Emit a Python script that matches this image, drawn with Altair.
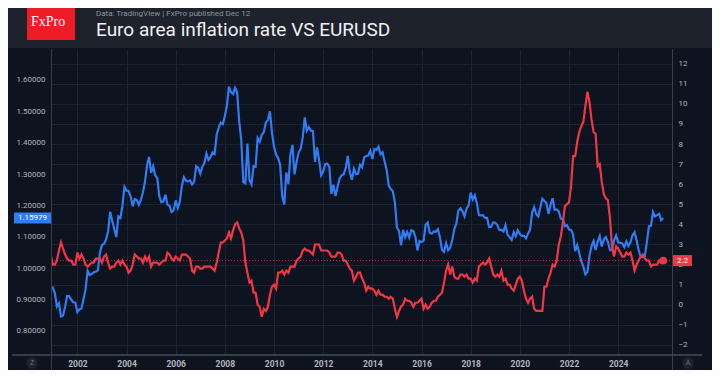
import altair as alt
import pandas as pd

# ---------------- data (monthly, first value = Dec 2000) ----------------
eurusd = [
    0.9388,
    0.9380, 0.9200, 0.8780, 0.8880, 0.8460, 0.8490, 0.8770, 0.9110, 0.9110, 0.8990, 0.8910, 0.8900,  # 2001
    0.8600, 0.8680, 0.8720, 0.9010, 0.9330, 0.9910, 0.9780, 0.9810, 0.9870, 0.9890, 0.9930, 1.0490,  # 2002
    1.0730, 1.0780, 1.0910, 1.1170, 1.1800, 1.1510, 1.1250, 1.0990, 1.1650, 1.1600, 1.1990, 1.2590,  # 2003
    1.2470, 1.2460, 1.2290, 1.1970, 1.2200, 1.2170, 1.2020, 1.2170, 1.2410, 1.2760, 1.3270, 1.3550,  # 2004
    1.3040, 1.3250, 1.2960, 1.2870, 1.2290, 1.2100, 1.2130, 1.2340, 1.2020, 1.1990, 1.1790, 1.1840,  # 2005
    1.2160, 1.1920, 1.2110, 1.2620, 1.2900, 1.2790, 1.2760, 1.2800, 1.2670, 1.2750, 1.3250, 1.3200,  # 2006
    1.3020, 1.3230, 1.3350, 1.3650, 1.3450, 1.3540, 1.3690, 1.3640, 1.4260, 1.4480, 1.4640, 1.4590,  # 2007
    1.4860, 1.5180, 1.5790, 1.5610, 1.5550, 1.5750, 1.5600, 1.4670, 1.4090, 1.2740, 1.2700, 1.3970,  # 2008
    1.2800, 1.2670, 1.3250, 1.3230, 1.4150, 1.4030, 1.4250, 1.4330, 1.4640, 1.4720, 1.5000, 1.4320,  # 2009
    1.3860, 1.3620, 1.3510, 1.3290, 1.2300, 1.2030, 1.3050, 1.2680, 1.3630, 1.3930, 1.2990, 1.3380,  # 2010
    1.3690, 1.3800, 1.4160, 1.4810, 1.4390, 1.4500, 1.4390, 1.4370, 1.3390, 1.3850, 1.3450, 1.2960,  # 2011
    1.3080, 1.3320, 1.3330, 1.3230, 1.2370, 1.2660, 1.2300, 1.2580, 1.2860, 1.2960, 1.2990, 1.3190,  # 2012
    1.3580, 1.3060, 1.2820, 1.3170, 1.3000, 1.3010, 1.3300, 1.3220, 1.3530, 1.3580, 1.3590, 1.3740,  # 2013
    1.3480, 1.3800, 1.3770, 1.3870, 1.3630, 1.3690, 1.3390, 1.3130, 1.2630, 1.2520, 1.2450, 1.2100,  # 2014
    1.1290, 1.1190, 1.0730, 1.1220, 1.0990, 1.1150, 1.0980, 1.1210, 1.1180, 1.1000, 1.0570, 1.0860,  # 2015
    1.0830, 1.0870, 1.1380, 1.1450, 1.1130, 1.1100, 1.1170, 1.1160, 1.1240, 1.0980, 1.0590, 1.0520,  # 2016
    1.0800, 1.0570, 1.0650, 1.0900, 1.1240, 1.1420, 1.1840, 1.1910, 1.1810, 1.1650, 1.1900, 1.2000,  # 2017
    1.2410, 1.2190, 1.2320, 1.2080, 1.1690, 1.1680, 1.1690, 1.1600, 1.1600, 1.1310, 1.1320, 1.1460,  # 2018
    1.1450, 1.1370, 1.1220, 1.1220, 1.1170, 1.1370, 1.1070, 1.0990, 1.0900, 1.1150, 1.1020, 1.1210,  # 2019
    1.1090, 1.1030, 1.1030, 1.0950, 1.1100, 1.1230, 1.1780, 1.1940, 1.1720, 1.1650, 1.1930, 1.2210,  # 2020
    1.2140, 1.2070, 1.1730, 1.2020, 1.2230, 1.1860, 1.1870, 1.1810, 1.1580, 1.1560, 1.1340, 1.1370,  # 2021
    1.1230, 1.1220, 1.1070, 1.0540, 1.0730, 1.0480, 1.0220, 1.0050, 0.9800, 0.9880, 1.0400, 1.0700,  # 2022
    1.0860, 1.0580, 1.0840, 1.1020, 1.0690, 1.0910, 1.0990, 1.0840, 1.0570, 1.0570, 1.0890, 1.1040,  # 2023
    1.0820, 1.0810, 1.0790, 1.0670, 1.0850, 1.0710, 1.0820, 1.1050, 1.1140, 1.0880, 1.0580, 1.0350,  # 2024
    1.0360, 1.0380, 1.0820, 1.1330, 1.1350, 1.1790, 1.1650, 1.1690, 1.1730, 1.1530, 1.1598,          # 2025
]

inflation = [
    2.5,
    2.0, 2.0, 2.2, 2.7, 3.1, 2.8, 2.5, 2.3, 2.2, 2.2, 2.0, 2.0,   # 2001
    2.6, 2.3, 2.5, 2.3, 2.0, 1.9, 2.0, 2.1, 2.1, 2.3, 2.3, 2.3,   # 2002
    2.1, 2.4, 2.5, 2.1, 1.8, 1.9, 1.9, 2.1, 2.2, 2.0, 2.2, 2.0,   # 2003
    1.9, 1.6, 1.7, 2.0, 2.5, 2.4, 2.3, 2.3, 2.1, 2.4, 2.2, 2.4,   # 2004
    1.9, 2.1, 2.1, 2.1, 2.0, 2.1, 2.2, 2.2, 2.6, 2.5, 2.3, 2.2,   # 2005
    2.4, 2.3, 2.2, 2.5, 2.5, 2.5, 2.4, 2.3, 1.7, 1.6, 1.9, 1.9,   # 2006
    1.8, 1.8, 1.9, 1.9, 1.9, 1.9, 1.8, 1.7, 2.1, 2.6, 3.1, 3.1,   # 2007
    3.2, 3.3, 3.6, 3.3, 3.7, 4.0, 4.1, 3.8, 3.6, 3.2, 2.1, 1.6,   # 2008
    1.1, 1.2, 0.6, 0.6, 0.0, -0.1, -0.6, -0.2, -0.3, -0.1, 0.5, 0.9,  # 2009
    1.0, 0.8, 1.6, 1.6, 1.7, 1.5, 1.7, 1.6, 1.9, 1.9, 1.9, 2.2,   # 2010
    2.3, 2.4, 2.7, 2.8, 2.7, 2.7, 2.6, 2.5, 3.0, 3.0, 3.0, 2.7,   # 2011
    2.7, 2.7, 2.7, 2.6, 2.4, 2.4, 2.4, 2.6, 2.6, 2.5, 2.2, 2.2,   # 2012
    2.0, 1.8, 1.7, 1.2, 1.4, 1.6, 1.6, 1.3, 1.1, 0.7, 0.9, 0.8,   # 2013
    0.8, 0.7, 0.5, 0.7, 0.5, 0.5, 0.4, 0.4, 0.3, 0.4, 0.3, -0.2,  # 2014
    -0.6, -0.3, -0.1, 0.0, 0.3, 0.2, 0.2, 0.1, -0.1, 0.1, 0.1, 0.2,  # 2015
    0.3, -0.2, 0.0, -0.2, -0.1, 0.1, 0.2, 0.2, 0.4, 0.5, 0.6, 1.1,  # 2016
    1.7, 2.0, 1.5, 1.9, 1.4, 1.3, 1.3, 1.5, 1.5, 1.4, 1.5, 1.3,   # 2017
    1.3, 1.1, 1.3, 1.2, 1.9, 2.0, 2.1, 2.0, 2.1, 2.3, 1.9, 1.5,   # 2018
    1.4, 1.5, 1.4, 1.7, 1.2, 1.3, 1.0, 1.0, 0.8, 0.7, 1.0, 1.3,   # 2019
    1.4, 1.2, 0.7, 0.3, 0.1, 0.3, 0.4, -0.2, -0.3, -0.3, -0.3, -0.3,  # 2020
    0.9, 0.9, 1.3, 1.6, 2.0, 1.9, 2.2, 3.0, 3.4, 4.1, 4.9, 5.0,   # 2021
    5.1, 5.9, 7.4, 7.4, 8.1, 8.6, 8.9, 9.1, 9.9, 10.6, 10.1, 9.2,  # 2022
    8.6, 8.5, 6.9, 7.0, 6.1, 5.5, 5.3, 5.2, 4.3, 2.9, 2.4, 2.9,   # 2023
    2.8, 2.6, 2.4, 2.4, 2.6, 2.5, 2.6, 2.2, 1.7, 2.0, 2.2, 2.4,   # 2024
    2.5, 2.3, 2.2, 2.2, 1.9, 2.0, 2.0, 2.0, 2.2, 2.1, 2.2,        # 2025
]

year_ticks = [2002, 2004, 2006, 2008, 2010, 2012, 2014, 2016, 2018, 2020, 2022, 2024]
left_ticks = [0.8, 0.9, 1.0, 1.1, 1.2, 1.3, 1.4, 1.5, 1.6, 1.7]
right_ticks = [-2, -1, 0, 1, 2, 3, 4, 5, 6, 7, 8, 9, 10, 11, 12]
last_eurusd_label = "1.15979"
last_eurusd_value = 1.15979
last_infl_label = "2.2"
last_infl_value = 2.2

title_text = "Euro area inflation rate VS EURUSD"
subtitle_text = "Data: TradingView  |  FxPro published Dec 12"


def monthly(values, y0=2000, m0=12):
    rows = []
    y, m = y0, m0
    for v in values:
        rows.append({"t": y + (m - 1) / 12.0, "v": v})
        m += 1
        if m > 12:
            m, y = 1, y + 1
    return pd.DataFrame(rows)


df_b = monthly(eurusd)
df_r = monthly(inflation)
df_r_last = df_r.tail(1)

# ---------------- style ----------------
W, H = 621, 306
BG = "#0e1320"
HEADER = "#1e222d"
GRID = "#1d2332"
SEP = "#3a3e4a"
LAB = "#b2b5be"
BLUE = "#2f7cf5"
RED = "#f23645"
FONT = "Roboto"


def x_enc():
    return alt.X("t:Q", scale=alt.Scale(domain=[2000.927, 2026.19], nice=False, zero=False),
                 axis=alt.Axis(values=year_ticks, format="d", title=None, grid=True,
                               gridColor=GRID, domain=False, ticks=False, labelColor=LAB,
                               labelFont=FONT, labelFontSize=8.5, labelFontWeight="bold",
                               labelPadding=4))


def yl():
    return alt.Scale(domain=[0.723, 1.6988], nice=False, zero=False)


def yr():
    return alt.Scale(domain=[-2.50, 12.73], nice=False, zero=False)


one = alt.Data(values=[{"a": 1}])

# ---------------- EURUSD (left axis) ----------------
blue_line = alt.Chart(df_b).mark_line(color=BLUE, strokeWidth=2.2, clip=True).encode(
    x=x_enc(),
    y=alt.Y("v:Q", scale=yl(), axis=alt.Axis(
        orient="left", values=left_ticks, format=".5f", title=None, grid=False,
        domain=False, ticks=False, labelColor=LAB, labelFont=FONT, labelFontSize=8,
        labelPadding=6)),
)

df_bl = pd.DataFrame({"v": [last_eurusd_value], "label": [last_eurusd_label]})
blue_badge = alt.Chart(df_bl).mark_tick(orient="horizontal", thickness=11, size=37,
                                         color=BLUE, opacity=1).encode(
    x=alt.value(-18.5), y=alt.Y("v:Q", scale=yl(), axis=None))
blue_text = alt.Chart(df_bl).mark_text(color="white", font=FONT, fontSize=8,
                                        align="center", baseline="middle").encode(
    x=alt.value(-18.5), y=alt.Y("v:Q", scale=yl(), axis=None), text="label:N")

# ---------------- Inflation (right axis) ----------------
df_rl = pd.DataFrame({"v": [last_infl_value], "label": [last_infl_label]})
red_rule = alt.Chart(df_rl).mark_rule(color=RED, strokeDash=[1, 2], strokeWidth=1,
                                      opacity=0.75).encode(
    x=alt.value(0), x2=alt.value(W), y=alt.Y("v:Q", scale=yr(), axis=None))

red_line = alt.Chart(df_r).mark_line(color=RED, strokeWidth=2.2, clip=True).encode(
    x=x_enc(),
    y=alt.Y("v:Q", scale=yr(), axis=alt.Axis(
        orient="right", values=right_ticks, format="d", title=None, grid=True,
        gridColor=GRID, domain=False, ticks=False, labelColor=LAB, labelFont=FONT,
        labelFontSize=8, labelPadding=6, labelAlign="left")),
)
red_dot = alt.Chart(df_r_last).mark_circle(color=RED, size=60, opacity=1).encode(
    x=x_enc(), y=alt.Y("v:Q", scale=yr(), axis=None))
red_badge = alt.Chart(df_rl).mark_tick(orient="horizontal", thickness=11, size=19,
                                        color=RED, opacity=1).encode(
    x=alt.value(631.5), y=alt.Y("v:Q", scale=yr(), axis=None))
red_text = alt.Chart(df_rl).mark_text(color="white", font=FONT, fontSize=8,
                                       align="center", baseline="middle").encode(
    x=alt.value(631.5), y=alt.Y("v:Q", scale=yr(), axis=None), text="label:N")

# ---------------- decorations ----------------
header = alt.Chart(one).mark_rect(color=HEADER).encode(
    x=alt.value(-51), x2=alt.value(669), y=alt.value(-49), y2=alt.value(-1))
logo = alt.Chart(one).mark_rect(color="#ee1c25").encode(
    x=alt.value(-24), x2=alt.value(24), y=alt.value(-49), y2=alt.value(-9))
logo_text = alt.Chart(one).mark_text(text="FxPro", font="Liberation Serif", fontSize=14,
                                     color="white", align="center", baseline="middle").encode(
    x=alt.value(-3), y=alt.value(-27))
subtitle = alt.Chart(one).mark_text(text=subtitle_text, font=FONT, fontSize=8,
                                    color="#8f929b", align="left", baseline="alphabetic").encode(
    x=alt.value(45), y=alt.value(-33.5))
title = alt.Chart(one).mark_text(text=title_text, font=FONT, fontSize=19,
                                 color="#f0f1f3", align="left", baseline="alphabetic").encode(
    x=alt.value(45), y=alt.value(-13.5))
sep_left = alt.Chart(one).mark_rule(color=SEP, strokeWidth=1).encode(
    x=alt.value(0.5), y=alt.value(0), y2=alt.value(321))
sep_right = alt.Chart(one).mark_rule(color=SEP, strokeWidth=1).encode(
    x=alt.value(621.5), y=alt.value(0), y2=alt.value(321))
sep_bottom = alt.Chart(one).mark_rule(color="#474b57", strokeWidth=1.5).encode(
    x=alt.value(-39), x2=alt.value(651), y=alt.value(H))
z_circle = alt.Chart(one).mark_circle(color="#1f2330", size=130, opacity=1).encode(
    x=alt.value(-19), y=alt.value(314))
z_text = alt.Chart(one).mark_text(text="Z", font=FONT, fontSize=7, color="#6a6d78",
                                  align="center", baseline="middle").encode(
    x=alt.value(-19), y=alt.value(314))
a_circle = alt.Chart(one).mark_circle(color="#1f2330", size=130, opacity=1).encode(
    x=alt.value(637), y=alt.value(314))
a_text = alt.Chart(one).mark_text(text="A", font=FONT, fontSize=7, color="#6a6d78",
                                  align="center", baseline="middle").encode(
    x=alt.value(637), y=alt.value(314))

chart = alt.layer(
    blue_line, red_line,
    blue_badge, blue_text, red_rule, red_dot, red_badge, red_text,
    header, logo, logo_text, subtitle, title,
    sep_left, sep_right, sep_bottom, z_circle, z_text, a_circle, a_text,
).resolve_scale(y="independent").properties(
    width=W, height=H,
    autosize=alt.AutoSizeParams(type="none"),
    padding={"left": 43, "top": 41, "right": 40, "bottom": 15},
    background=BG,
).configure_view(stroke=None, fill=BG)

chart.save("out.html", embed_options={"renderer": "svg", "actions": False})
